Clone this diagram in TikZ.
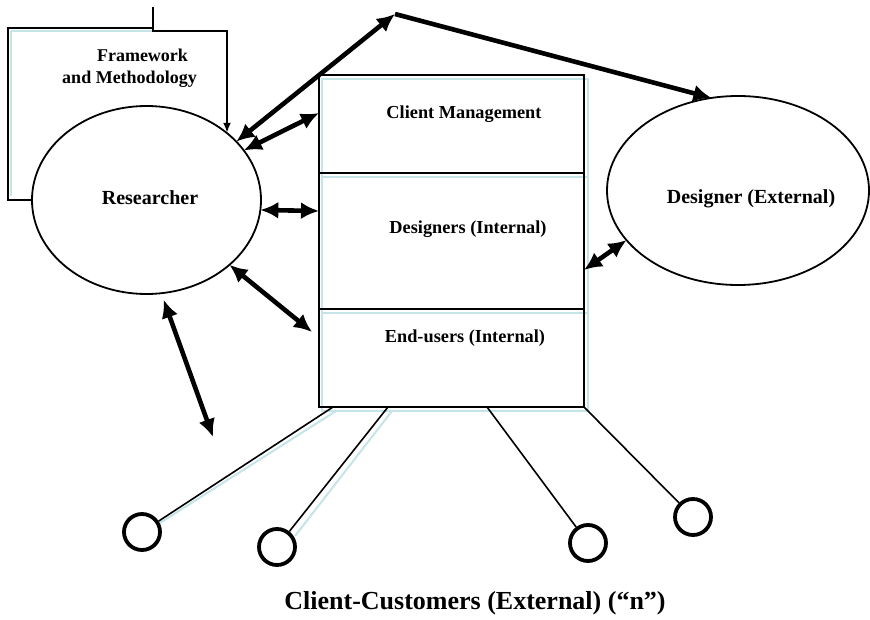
\documentclass[tikz,border=0pt]{standalone}
\usepackage{fontspec}
\setmainfont{Liberation Serif}
\usetikzlibrary{arrows.meta,shapes.geometric}
\definecolor{shadecyan}{RGB}{196,228,232}
\begin{document}
\begin{tikzpicture}[x=1pt,y=-1pt,
  lbl/.style={font=\bfseries\fontsize{18.3}{22}\selectfont, inner sep=0},
  lblbig/.style={font=\bfseries\fontsize{20}{24}\selectfont, inner sep=0},
  bigarr/.style={line width=4.6pt, {Latex[length=18pt,width=17pt]}-{Latex[length=18pt,width=17pt]}},
  onearr/.style={line width=4.6pt, -{Latex[length=18pt,width=17pt]}},
  rowbox/.style={draw, line width=2.2pt, minimum width=265pt, inner sep=0, outer sep=0},
  ell/.style={draw, ellipse, line width=1.8pt, inner sep=0, outer sep=0},
  cust/.style={draw, circle, line width=3.8pt, minimum size=36pt, inner sep=0},
  tie/.style={line width=1.6pt},
  fwline/.style={line width=2pt},
  shad/.style={draw=shadecyan, line width=2pt}
]
\useasboundingbox (0,0) rectangle (870,620);

% light shadow lines
\draw[shad] (322,79) rectangle (588,411);
\draw[shad] (322,177) -- (588,177);
\draw[shad] (322,313) -- (588,313);
\draw[shad] (11,31) -- (153,31);
\draw[shad] (11,31) -- (11,196);

% central box
\node[rowbox, minimum height=98pt] (cm) at (451.5,124) {};
\node[rowbox, minimum height=136pt] (di) at (451.5,241) {};
\node[rowbox, minimum height=98pt] (eu) at (451.5,358) {};
\node[lbl] (cmt) at (464,114) {Client Management};
\node[lbl] (dit) at (468,229) {Designers (Internal)};
\node[lbl] (eut) at (465,338) {End-users (Internal)};

% ellipses
\node[ell, minimum width=229pt, minimum height=188pt] (res) at (146.5,200) {};
\node[lblbig] (rest) at (150,198) {Researcher};
\node[ell, minimum width=262pt, minimum height=189pt] (des) at (738,190.5) {};
\node[lblbig] (dest) at (751,199) {Designer (External)};

% framework and methodology
\coordinate (fwtab) at (153,7);
\coordinate (fwc) at (227,31);
\draw[fwline] (153,28) -- (8,28) -- (8,200) -- (res.west);
\draw[fwline, -{Latex[length=10pt,width=8pt]}] (fwtab) -- (153,31) -- (fwc) -- (fwc |- res.40);
\node[lbl, font=\bfseries\fontsize{18}{21.5}\selectfont, align=center] (fwt) at (129.5,68) {\hspace*{26pt}Framework\\and Methodology};

% thick arrows
\coordinate (top) at (395,14);
\coordinate (dn) at (213,437);
\draw[bigarr] (res.33) -- (top);
\draw[onearr] (top) -- (des.106);
\draw[bigarr] (res.27) -- ([yshift=11pt]cm.west);
\draw[bigarr] (res.-5) -- ([yshift=30pt]di.west);
\draw[bigarr] (res.-38) -- ([xshift=-7pt,yshift=26pt]eu.west);
\draw[bigarr, shorten <=7pt] (res.-81) -- (dn);
\draw[bigarr] (des.204) -- ([yshift=-29pt]di.east);

% client-customers
\node[cust] (c1) at (142,532) {};
\node[cust] (c2) at (277,547) {};
\node[cust] (c3) at (588,543) {};
\node[cust] (c4) at (693,517) {};
\draw[shad] ([xshift=17pt,yshift=-4pt]eu.south west) -- ([xshift=4pt,yshift=-5pt]c1.north east);
\draw[shad] ([xshift=73pt,yshift=-4pt]eu.south west) -- ([xshift=4pt,yshift=-3pt]c2.north east);
\draw[tie] ([xshift=14pt]eu.south west) -- (c1);
\draw[tie] ([xshift=69pt]eu.south west) -- (c2);
\draw[tie] ([xshift=168pt]eu.south west) -- (c3);
\draw[tie] (eu.south east) -- (c4);
\node[font=\bfseries\fontsize{26}{30}\selectfont, inner sep=0] (cc) at (475,603) {Client-Customers (External) (“n”)};
\end{tikzpicture}
\end{document}
